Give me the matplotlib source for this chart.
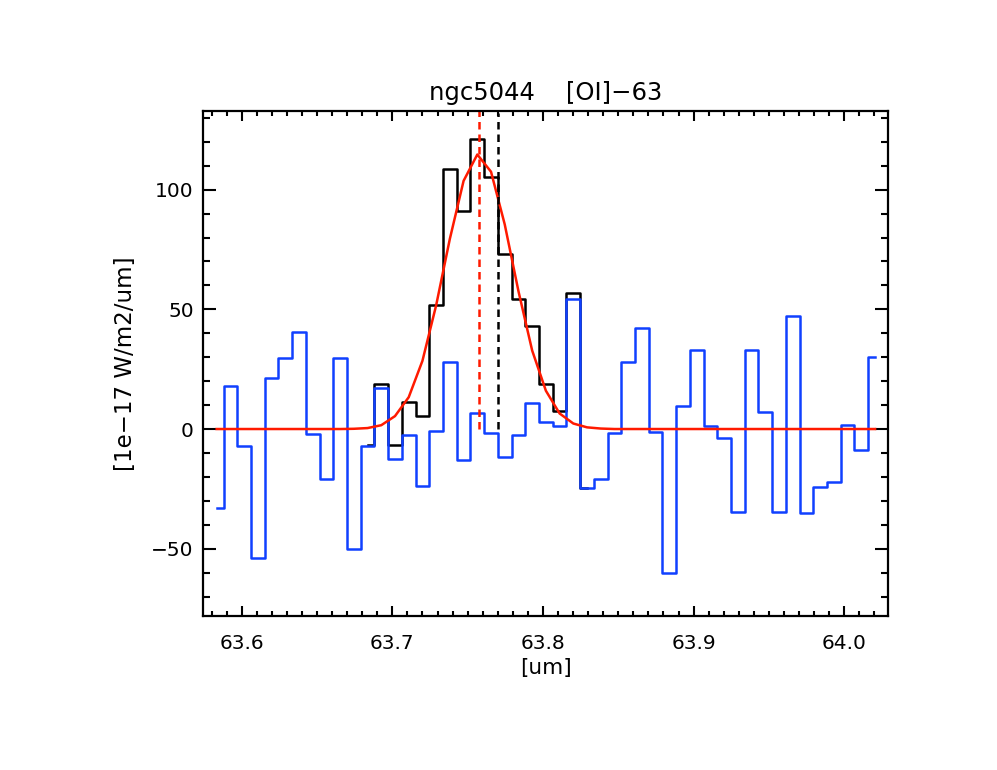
import matplotlib
matplotlib.use('Agg')
import matplotlib.pyplot as plt
import numpy as np
from matplotlib.ticker import MultipleLocator

# wavelength grid [um], 49 spectral bins
wave = np.linspace(63.5834, 64.0205, 49)

# observed flux (black), only shown around the line, bins 11..27
i0, i1 = 11, 28
flux = [-6.7, 18.8, -6.7, 11.3, 5.4, 51.8, 108.5, 91.2, 121.0,
        105.1, 73.0, 54.2, 43.0, 18.7, 7.5, 56.7, -24.5]

# residual = data - fit (blue)
resid = [-33.1, 18.0, -7.0, -53.8, 21.2, 29.8, 40.4, -2.1, -21.0, 29.8,
         -50.1, -7.0, 17.3, -12.5, -2.4, -23.7, -0.8, 28.1, -13.1, 6.5,
         -1.8, -11.6, -2.5, 11.0, 3.1, 1.3, 54.3, -24.8, -21.0, -1.8,
         28.1, 42.2, -1.4, -60.3, 9.7, 32.9, 1.1, -3.9, -34.5, 33.1,
         7.1, -34.8, 47.2, -34.9, -24.1, -22.3, 1.7, -8.6, 30.0]

# gaussian fit (red)
fit = [0, 0, 0, 0, 0, 0, 0, 0, 0, 0,
       0.1, 0.4, 1.6, 5.4, 13.3, 28.5, 51.7, 79.5, 103.7, 114.7,
       107.5, 85.5, 57.6, 32.8, 16.0, 6.5, 2.3, 0.7, 0.2, 0,
       0, 0, 0, 0, 0, 0, 0, 0, 0, 0,
       0, 0, 0, 0, 0, 0, 0, 0, 0]

line_fit = 63.7574   # fitted centre
line_ref = 63.7702   # expected line position

blue = '#1040ff'
red = '#ff1a00'
lw = 1.8

plt.rcParams['font.family'] = 'DejaVu Sans'
plt.rcParams['font.size'] = 14.5

fig = plt.figure(figsize=(9.97, 7.70), dpi=100)
ax = fig.add_axes([0.2033, 0.2004, 0.6877, 0.6558])

ax.step(wave[i0:i1], flux, where='mid', color='black', lw=lw)
ax.step(wave, resid, where='mid', color=blue, lw=lw)
ax.plot(wave, fit, color=red, lw=lw)
ax.plot([line_fit, line_fit], [0, 133], color=red, lw=lw, dashes=(3, 2))
ax.plot([line_ref, line_ref], [0, 132], color='black', lw=lw, dashes=(3, 2))

ax.set_xlim(63.5741, 64.0293)
ax.set_ylim(-78, 133)

ax.xaxis.set_major_locator(MultipleLocator(0.1))
ax.xaxis.set_minor_locator(MultipleLocator(0.01))
ax.yaxis.set_major_locator(MultipleLocator(50))
ax.yaxis.set_minor_locator(MultipleLocator(10))
ax.xaxis.set_major_formatter(matplotlib.ticker.FormatStrFormatter('%.1f'))
ax.yaxis.set_major_formatter(matplotlib.ticker.FuncFormatter(
    lambda v, p: ('%d' % v).replace('-', '\u2212')))

ax.tick_params(axis='x', which='both', direction='in', top=True, width=1.5, pad=13.5)
ax.tick_params(axis='x', which='major', length=7.5)
ax.tick_params(axis='x', which='minor', length=3.6)
ax.tick_params(axis='y', which='both', direction='in', right=True, width=1.5, pad=6.5)
ax.tick_params(axis='y', which='major', length=9.5)
ax.tick_params(axis='y', which='minor', length=5)
for s in ax.spines.values():
    s.set_linewidth(1.6)

ax.set_title('ngc5044    [OI]\u221263', fontsize=17.5, pad=8)
ax.set_xlabel('[um]', fontsize=15.5, labelpad=3)
ax.set_ylabel('[1e\u221217 W/m2/um]', fontsize=16.5, labelpad=10)

plt.savefig('out.png', dpi=100)
